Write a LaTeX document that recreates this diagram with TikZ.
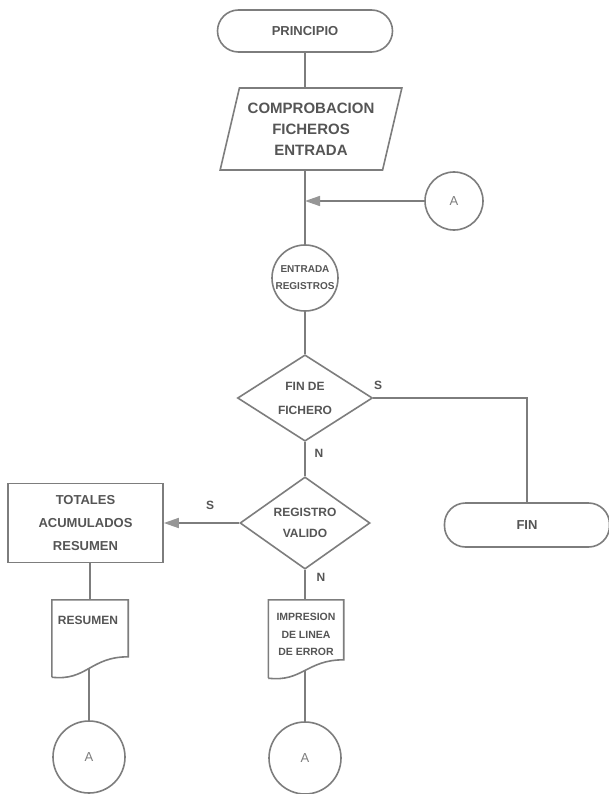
\documentclass[tikz,border=0pt]{standalone}
\usepackage{fontspec}
\setmainfont{Liberation Sans}
\usetikzlibrary{shapes.geometric,arrows.meta}
\definecolor{linec}{RGB}{125,125,125}
\definecolor{txtc}{RGB}{85,85,85}
\definecolor{tipc}{RGB}{150,150,150}
\begin{document}
\begin{tikzpicture}[x=1pt,y=-1pt,
  every node/.style={text=txtc, align=center, inner sep=0pt},
  conn/.style={draw=linec, line width=1.6pt},
  arr/.style={conn, -{Triangle[length=15pt,width=10pt,fill=tipc,color=tipc]}},
  outl/.style={draw=linec, line width=1.6pt},
  term/.style={outl, rounded corners=21pt},
  para/.style={outl, trapezium, trapezium left angle=72, trapezium right angle=108, trapezium stretches=true},
  dia/.style={outl, diamond},
  circ/.style={outl, circle},
  boxr/.style={outl, rectangle},
  docarea/.style={rectangle, draw=none},
  fa/.style={font=\bfseries\fontsize{15}{21}\selectfont},
  fb/.style={font=\bfseries\fontsize{13}{23}\selectfont},
  fc/.style={font=\bfseries\fontsize{12}{21}\selectfont},
  fd/.style={font=\bfseries\fontsize{10}{17}\selectfont},
  fe/.style={font=\bfseries\fontsize{10.5}{17.5}\selectfont},
  lbl/.style={font=\bfseries\fontsize{12}{14}\selectfont},
  fsmall/.style={font=\fontsize{13}{15}\selectfont, text=linec}
]
\fill[white] (0,0) rectangle (609,794);
\useasboundingbox (0,0) rectangle (609,794);

% nodes
\node[term, fb, minimum width=175pt, minimum height=42pt] (princ) at (305,31) {PRINCIPIO};
\node[para, fa, minimum width=182pt, minimum height=82pt] (comp) at (311,129) {COMPROBACION\\FICHEROS\\ENTRADA};
\node[circ, fd, minimum size=66pt] (regc) at (305,278) {ENTRADA\\REGISTROS};
\node[circ, fsmall, minimum size=58pt] (circA) at (454,201) {A};
\coordinate (j) at (regc.north |- circA.west);
\node[dia, font=\bfseries\fontsize{12}{24}\selectfont, minimum width=135pt, minimum height=80pt] (d1) at (305,398) {FIN DE\\FICHERO};
\node[dia, fc, minimum width=130pt, minimum height=77pt] (d2) at (305,523) {REGISTRO\\VALIDO};
\node[term, fb, minimum width=165pt, minimum height=44pt] (fin) at (527,525) {FIN};
\node[boxr, fb, minimum width=155pt, minimum height=79pt] (box) at (85.5,523) {TOTALES\\ACUMULADOS\\RESUMEN};

\node[docarea, minimum width=76pt, minimum height=77pt] (resdoc) at (90,638.5) {};
\node[fc] (restext) at (88,620) {RESUMEN};
\node[docarea, minimum width=75pt, minimum height=78pt] (impdoc) at (306,639) {};
\node[fe] (imptext) at (306,634.5) {IMPRESION\\DE LINEA\\DE ERROR};

\node[circ, fsmall, minimum size=72pt] (resA) at (89,757) {A};
\node[circ, fsmall, minimum size=72pt] (impA) at (305,758) {A};

% document outlines
\draw[outl] (resdoc.south west) -- (resdoc.north west) -- (resdoc.north east) -- ++(0,57)
  .. controls +(-38,0) and +(35,4) .. (resdoc.south west) coordinate[pos=0.5] (resw);
\draw[outl] (impdoc.south west) -- (impdoc.north west) -- (impdoc.north east) -- ++(0,60)
  .. controls +(-37,0) and +(34,4) .. (impdoc.south west) coordinate[pos=0.5] (impw);

% labels
\node[lbl] (s1) at (378,385) {S};
\node[lbl] (n1) at (319,453) {N};
\node[lbl] (s2) at (210,505) {S};
\node[lbl] (n2) at (321,577) {N};

% connectors
\draw[conn] (princ.south) -- (princ.south |- comp.north);
\draw[conn] (regc.north |- comp.south) -- (regc.north);
\draw[arr] (circA.west) -- (j);
\draw[conn] (regc.south) -- (d1.north);
\draw[conn] (d1.east) -| (fin.north);
\draw[conn] (d1.south) -- (d2.north);
\draw[arr] (d2.west) -- (box.east);
\draw[conn] (d2.south) -- (d2.south |- impdoc.north);
\draw[conn] (resdoc.north |- box.south) -- (resdoc.north);
\draw[conn] (resw) -- (resw |- resA.north);
\draw[conn] (impw) -- (impw |- impA.north);
\end{tikzpicture}
\end{document}
